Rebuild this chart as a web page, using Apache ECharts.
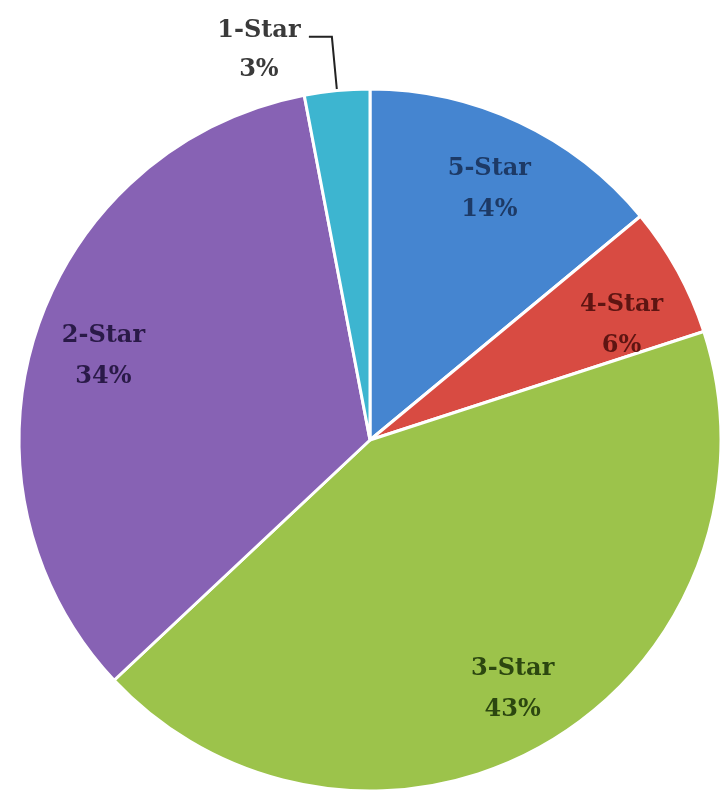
<!DOCTYPE html>
<html><head><meta charset="utf-8">
<script src="https://cdn.jsdelivr.net/npm/echarts@6/dist/echarts.min.js"></script>
<style>html,body{margin:0;padding:0;background:#fff}#c{width:720px;height:803px}</style>
</head><body><div id="c"></div>
<script>
const categories = ['5-Star', '4-Star', '3-Star', '2-Star', '1-Star'];
const values = [14, 6, 43, 34, 3];
const colors = ['#4585d0', '#d84b42', '#9cc34b', '#8762b4', '#3db5d0'];
const textColors = ['#1d3a66', '#5e1512', '#2c4710', '#2a1a48', '#3a3a3a'];

const chart = echarts.init(document.getElementById('c'), null, {renderer: 'canvas'});
const font = '"DejaVu Serif", serif';
const center = [370, 440];
const R = 351;

const mainData = categories.map((n, i) => ({
  name: n, value: values[i],
  itemStyle: {color: colors[i]},
  label: n === '1-Star' ? {
    show: true, position: 'outside', color: textColors[i],
    padding: [26, 0, 0, 0],
    formatter: '{t|{b}}\n{t|{c}%}',
    rich: {t: {width: 90, align: 'center', color: textColors[i],
      fontFamily: font, fontSize: 24, fontWeight: 'bold', lineHeight: 39}}
  } : {show: false},
  labelLine: n === '1-Star' ? {show: true, length: 54, length2: 23,
    lineStyle: {color: '#222', width: 2}} : {show: false}
}));

const overlayData = categories.map((n, i) => ({
  name: n, value: values[i],
  itemStyle: {color: 'rgba(0,0,0,0)', borderWidth: 0},
  label: n === '1-Star' ? {show: false} : {
    show: true, position: 'inside', color: textColors[i],
    fontFamily: font, fontSize: 24, fontWeight: 'bold', lineHeight: 41,
    offset: n === '4-Star' ? [6, 20] : (n === '3-Star' ? [0, 8] : [0, 3]),
    formatter: '{b}\n{c}%'
  }
}));

chart.setOption({
  animation: false,
  series: [
    {
      type: 'pie', center: center, radius: [0, R],
      startAngle: 90, clockwise: true, avoidLabelOverlap: false,
      itemStyle: {borderColor: '#ffffff', borderWidth: 3},
      emphasis: {disabled: true},
      data: mainData
    },
    {
      type: 'pie', center: center, radius: [R * 0.58, R],
      startAngle: 90, clockwise: true, avoidLabelOverlap: false, silent: true,
      labelLine: {show: false},
      data: overlayData
    }
  ]
});
</script></body></html>
